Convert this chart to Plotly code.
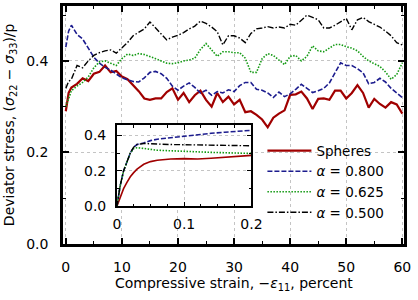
import plotly.graph_objects as go

# ---------------- data ----------------
strain = [0.0, 0.5] + list(range(1, 61))

spheres = [0.29, 0.33,
           0.342, 0.35, 0.362, 0.356, 0.372, 0.376, 0.39, 0.375, 0.378, 0.366,
           0.36, 0.348, 0.334, 0.318, 0.315, 0.318, 0.318, 0.332, 0.34, 0.315,
           0.33, 0.31, 0.325, 0.335, 0.315, 0.30, 0.33, 0.31, 0.322, 0.305,
           0.315, 0.288, 0.29, 0.282, 0.272, 0.255, 0.276, 0.285, 0.292, 0.326,
           0.327, 0.333, 0.318, 0.295, 0.317, 0.318, 0.315, 0.335, 0.335, 0.318,
           0.33, 0.347, 0.33, 0.298, 0.317, 0.306, 0.298, 0.31, 0.305, 0.285]

a800 = [0.43, 0.465,
        0.478, 0.458, 0.448, 0.428, 0.408, 0.395, 0.386, 0.38, 0.372, 0.363,
        0.359, 0.355, 0.354, 0.363, 0.375, 0.377, 0.372, 0.362, 0.345, 0.336,
        0.345, 0.352, 0.342, 0.33, 0.336, 0.325, 0.333, 0.33, 0.337, 0.333,
        0.346, 0.353, 0.353, 0.338, 0.336, 0.33, 0.32, 0.332, 0.322, 0.328,
        0.338, 0.349, 0.34, 0.331, 0.335, 0.34, 0.352, 0.375, 0.396, 0.39,
        0.39, 0.383, 0.374, 0.35, 0.353, 0.362, 0.354, 0.34, 0.33, 0.32]

a625 = [0.30, 0.32,
        0.335, 0.345, 0.353, 0.365, 0.385, 0.398, 0.40, 0.395, 0.39, 0.405,
        0.415, 0.412, 0.416, 0.414, 0.41, 0.405, 0.40, 0.395, 0.394, 0.396,
        0.40, 0.402, 0.406, 0.425, 0.438, 0.425, 0.41, 0.42, 0.42, 0.418,
        0.418, 0.406, 0.375, 0.375, 0.405, 0.416, 0.412, 0.402, 0.392, 0.41,
        0.412, 0.40, 0.41, 0.433, 0.422, 0.42, 0.428, 0.436, 0.436, 0.431,
        0.428, 0.422, 0.41, 0.40, 0.394, 0.388, 0.376, 0.36, 0.37, 0.396]

a500 = [0.34, 0.355,
        0.36, 0.39, 0.385, 0.40, 0.412, 0.418, 0.422, 0.424, 0.417, 0.428,
        0.44, 0.455, 0.462, 0.47, 0.485, 0.472, 0.46, 0.446, 0.452, 0.456,
        0.462, 0.47, 0.476, 0.487, 0.482, 0.474, 0.464, 0.435, 0.455, 0.455,
        0.45, 0.44, 0.46, 0.47, 0.472, 0.475, 0.472, 0.474, 0.472, 0.48,
        0.478, 0.49, 0.50, 0.495, 0.49, 0.472, 0.472, 0.478, 0.485, 0.493,
        0.468, 0.49, 0.495, 0.486, 0.48, 0.474, 0.465, 0.455, 0.44, 0.435]

# inset (early strain)
inset_strain = [0.0, 0.005, 0.01, 0.015, 0.02, 0.025, 0.03, 0.04, 0.05, 0.06,
                0.08, 0.10, 0.12, 0.14, 0.16, 0.18, 0.20]
inset_spheres = [0.0, 0.05, 0.10, 0.135, 0.167, 0.19, 0.21, 0.237, 0.252, 0.26,
                 0.267, 0.269, 0.267, 0.271, 0.276, 0.281, 0.287]
inset_a800 = [0.0, 0.117, 0.20, 0.255, 0.30, 0.333, 0.348, 0.357, 0.37, 0.378,
              0.387, 0.396, 0.404, 0.411, 0.417, 0.422, 0.428]
inset_a625 = [0.0, 0.117, 0.20, 0.255, 0.30, 0.325, 0.33, 0.326, 0.32, 0.316,
              0.313, 0.309, 0.306, 0.304, 0.302, 0.30, 0.298]
inset_a500 = [0.0, 0.117, 0.20, 0.255, 0.30, 0.333, 0.348, 0.354, 0.352, 0.35,
              0.348, 0.347, 0.345, 0.344, 0.343, 0.342, 0.341]

names = ["Spheres", "<i>α</i> = 0.800", "<i>α</i> = 0.625", "<i>α</i> = 0.500"]
colors = ["#a00000", "#1c1c8e", "#139a13", "#000000"]
dashes = ["solid", "5px,2px", "1.5px,1.5px", "6px,2px,1.5px,2px"]
widths = [2.2, 1.6, 1.6, 1.4]
inset_widths = [1.6, 1.6, 1.6, 1.4]

FONT = "DejaVu Sans"

fig = go.Figure()
main_series = [spheres, a800, a625, a500]
inset_series = [inset_spheres, inset_a800, inset_a625, inset_a500]
for i in range(4):
    fig.add_trace(go.Scatter(x=strain, y=main_series[i], mode="lines", name=names[i],
                             line=dict(color=colors[i], width=widths[i], dash=dashes[i]),
                             xaxis="x", yaxis="y"))
for i in range(4):
    fig.add_trace(go.Scatter(x=inset_strain, y=inset_series[i], mode="lines",
                             showlegend=False,
                             line=dict(color=colors[i], width=inset_widths[i], dash=dashes[i]),
                             xaxis="x2", yaxis="y2"))

W, H = 418, 300
ml, mr, mt, mb = 63, 13, 3, 56
pw, ph = W - ml - mr, H - mt - mb

def px_x(p):
    return (p - ml) / pw

def px_y(p):
    return (H - mb - p) / ph

axis_common = dict(showline=True, linecolor="black", mirror="allticks",
                   ticks="inside", tickcolor="black", zeroline=False,
                   showgrid=True, gridcolor="#c4c4c4", griddash="dot", gridwidth=1,
                   tickfont=dict(family=FONT, size=14, color="black"))

fig.update_layout(
    width=W, height=H,
    margin=dict(l=ml, r=mr, t=mt, b=mb),
    paper_bgcolor="white", plot_bgcolor="white",
    font=dict(family=FONT, size=14, color="black"),
    showlegend=True,
    legend=dict(x=px_x(263), y=px_y(134), xanchor="left", yanchor="top",
                bgcolor="rgba(0,0,0,0)", borderwidth=0, itemwidth=44,
                font=dict(family=FONT, size=13.5, color="black"),
                tracegroupgap=0),
    xaxis=dict(range=[-0.5, 60.3], tickvals=[0, 10, 20, 30, 40, 50, 60],
               ticklen=6, tickwidth=1.5, linewidth=2.5,
               minor=dict(dtick=5, ticklen=3, tickwidth=1.2, ticks="inside",
                          tickcolor="black", showgrid=False),
               ticklabelstandoff=8, **axis_common),
    yaxis=dict(range=[0, 0.52], tickvals=[0.0, 0.2, 0.4], tickformat=".1f",
               ticklen=6, tickwidth=1.5, linewidth=2.5,
               minor=dict(dtick=0.1, ticklen=3, tickwidth=1.2, ticks="inside",
                          tickcolor="black", showgrid=False),
               ticklabelstandoff=9, **axis_common),
    xaxis2=dict(domain=[px_x(117), px_x(252)], anchor="y2", range=[0, 0.2],
                tickvals=[0, 0.1, 0.2], ticktext=["0", "0.1", "0.2"],
                ticklen=5, tickwidth=1.2, linewidth=1.5,
                minor=dict(dtick=0.025, ticklen=3, tickwidth=1, ticks="inside",
                           tickcolor="black", showgrid=False),
                ticklabelstandoff=4, **axis_common),
    yaxis2=dict(domain=[px_y(206), px_y(124)], anchor="x2", range=[0, 0.455],
                tickvals=[0.0, 0.2, 0.4], tickformat=".1f",
                ticklen=5, tickwidth=1.2, linewidth=1.5,
                minor=dict(dtick=0.1, ticklen=3, tickwidth=1, ticks="inside",
                           tickcolor="black", showgrid=False),
                ticklabelstandoff=6, **axis_common),
    annotations=[
        dict(text="Compressive strain, −<i>ε</i><sub>11</sub>, percent",
             xref="paper", yref="paper", x=0.5, y=px_y(284),
             xanchor="center", yanchor="middle", showarrow=False,
             font=dict(family=FONT, size=14, color="black")),
        dict(text="Deviator stress, (<i>σ</i><sub>22</sub> − <i>σ</i><sub>33</sub>)/p",
             xref="paper", yref="paper", x=px_x(10), y=0.5, textangle=-90,
             xanchor="center", yanchor="middle", showarrow=False,
             font=dict(family=FONT, size=14, color="black")),
    ],
)

fig.write_html("out.html")
